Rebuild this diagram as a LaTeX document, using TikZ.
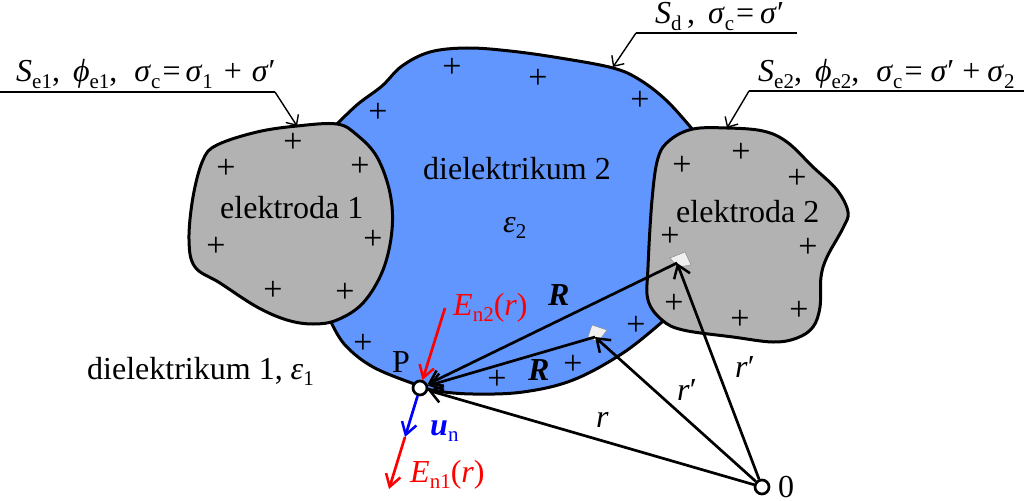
\documentclass[tikz,border=0pt]{standalone}
\usepackage{fontspec}
\setmainfont{Liberation Serif}
\usetikzlibrary{arrows.meta}
\definecolor{blueregion}{RGB}{98,150,255}
\definecolor{greyregion}{RGB}{178,178,178}
\newcommand{\sbs}[1]{\raisebox{-0.2em}{\fontsize{21}{21}\selectfont #1}}
\tikzset{
  x=1pt,y=-1pt,
  txt/.style={inner sep=0pt,anchor=base west,font=\fontsize{32}{32}\selectfont},
  plus/.style={inner sep=0pt,font=\fontsize{34}{34}\selectfont},
  region/.style={draw=black,line width=3pt,line join=round},
  arr/.style={draw=black,line width=2.7pt,-{Straight Barb[length=12pt,width=17pt,line width=2.5pt]}},
  leader/.style={draw=black,line width=1.4pt},
  ticktip/.style={draw=black,line width=1.4pt,-{Straight Barb[length=8pt,width=15pt,line width=1.4pt]}},
  patchm/.style={fill=white!88!gray,draw=black!50,line width=0.4pt},
  dot/.style={circle,draw=black,fill=white,line width=2.7pt,minimum size=14pt,inner sep=0pt},
  redarr/.style={draw=red,line width=2.7pt,-{Straight Barb[length=12pt,width=15pt,line width=2.5pt]}},
  bluearr/.style={draw=blue,line width=2.7pt,-{Straight Barb[length=12pt,width=15pt,line width=2.5pt]}}
}
\begin{document}
\begin{tikzpicture}
\useasboundingbox (0,0) rectangle (1024,500);
% dielectric 2
\draw[region,fill=blueregion]
 plot[smooth,tension=0.6] coordinates {(337,124) (358,104) (382,86) (402,66) (430,52) (467,48) (510,51) (560,58) (613,68) (640,80) (667,101) (693,130)}
 -- plot[smooth,tension=0.6] coordinates {(662,322) (623,353) (573,380) (523,392) (473,394) (437,391) (417,385) (373,367) (345,345) (331,322)}
 -- cycle;
% electrodes
\draw[region,fill=greyregion] plot[smooth cycle,tension=0.6] coordinates {
 (337,124) (297,126) (257,132) (217,145) (203,160) (193,197) (189,240) (195,267) (220,283) (257,307) (287,320) (313,324) (337,320) (363,303) (383,270) (392,230) (390,193) (377,157) (357,135)};
\draw[region,fill=greyregion] plot[smooth cycle,tension=0.6] coordinates {
 (693,129) (727,128) (763,131) (787,142) (813,167) (837,190) (848,212) (843,228) (827,257) (821,277) (820,307) (813,327) (797,338) (773,342) (733,337) (683,330) (662,320) (648,300) (648,267) (652,200) (658,158) (670,140)};
% plus signs
\foreach \n/\x/\y in {a/293/143,b/226/169,c/360/167,d/373/240,e/216/247,f/273/291,g/345/293,
 h/452/68,i/538/79,j/640/101,k/378/113,l/363/344,m/497/380,n/573/365,o/636/326,
 p/682/166,q/741/153,r/797/179,s/808/248,t/670/237,u/674/304,v/740/320,w/799/311}
 \node[plus] (plus\n) at (\x,\y) {+};
% texts
\node[txt] (lab1) at (16,82) {\textit{S}\sbs{e1},\hspace{13pt}\textit{ϕ}\sbs{e1},\hspace{17pt}\textit{σ}\sbs{c}\hspace{2pt}=\hspace{5pt}\textit{σ}\sbs{1}\hspace{11pt}+\hspace{10pt}\textit{σ}′};
\node[txt] (labd) at (655,24) {\textit{S}\sbs{d}\,,\hspace{13pt}\textit{σ}\sbs{c}\hspace{2pt}=\hspace{6pt}\textit{σ}′};
\node[txt] (lab2) at (758,82) {\textit{S}\sbs{e2},\hspace{13pt}\textit{ϕ}\sbs{e2},\hspace{17pt}\textit{σ}\sbs{c}\hspace{2pt}=\hspace{8pt}\textit{σ}′\hspace{8pt}+\hspace{7pt}\textit{σ}\sbs{2}};
\node[txt] (el1) at (220,218) {elektroda 1};
\node[txt] (el2) at (676,222) {elektroda 2};
\node[txt] (d2) at (423,179) {dielektrikum 2};
\node[txt] (eps2) at (503,232) {\textit{ε}\sbs{2}};
\node[txt] (d1) at (87,379) {dielektrikum 1, \textit{ε}\sbs{1}};
\node[txt] (pp) at (392,372) {P};
\node[txt,text=red] (en2) at (453,315) {\textit{E}\sbs{n2}(\textit{r})};
\node[txt,text=red] (en1) at (410,482) {\textit{E}\sbs{n1}(\textit{r})};
\node[txt] (un) at (430,435) {\textcolor{blue}{\textbf{\textit{u}}\sbs{n}}};
\node[txt] (R1) at (548,305) {\textbf{\textit{R}}};
\node[txt] (R2) at (528,380) {\textbf{\textit{R}}};
\node[txt] (rr) at (596,427) {\textit{r}};
\node[txt] (rp1) at (677,400) {\textit{r}′};
\node[txt] (rp2) at (735,377) {\textit{r}′};
\node[txt] (zero) at (778,497) {0};
% leaders
\coordinate (l1a) at (0,92); \coordinate (l1b) at (275,92); \coordinate (l1c) at (297,126);
\draw[leader] (l1a) -- (l1b);
\draw[ticktip] (l1b) -- (l1c);
\coordinate (dA) at (797,33); \coordinate (dB) at (636,33); \coordinate (dC) at (613,67);
\draw[leader] (dA) -- (dB);
\draw[ticktip] (dB) -- (dC);
\coordinate (eA) at (1024,91); \coordinate (eB) at (749,91); \coordinate (eC) at (727,128);
\draw[leader] (eA) -- (eB);
\draw[ticktip] (eB) -- (eC);
% source elements
\path[patchm] (670,258) -- (685,252) -- (691,265) -- (678,267) -- cycle;
\path[patchm] (588,337) -- (592,325) -- (607,330) -- (598,342) -- cycle;
\coordinate (s1) at (677,263); \coordinate (s2) at (595,337);
% point P and origin
\node[dot] (P) at (420,388) {};
\node[dot] (O) at (762,487) {};
% connectors
\draw[arr] (s1) -- (P);
\draw[arr] (s2) -- (P);
\draw[arr] (O) -- (P);
\draw[arr] (O) -- (s1);
\draw[arr] (O) -- (s2);
\coordinate (e2s) at (445,308); \coordinate (e1e) at (389,489); \coordinate (unp) at (405,437);
\draw[redarr] (e2s) -- (P);
\draw[redarr] (unp) -- (e1e);
\draw[bluearr] (P) -- (unp);
\end{tikzpicture}
\end{document}
